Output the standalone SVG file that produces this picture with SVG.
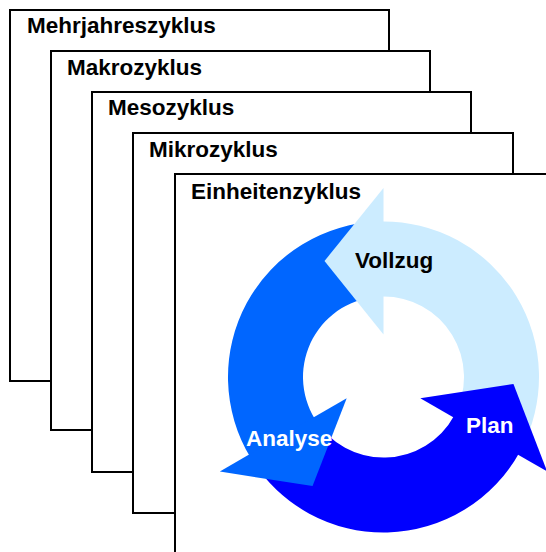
<svg xmlns="http://www.w3.org/2000/svg" width="546" height="552" viewBox="0 0 546 552">
  <style>
    .frame { fill: #ffffff; stroke: #000000; stroke-width: 2; }
    .lbl { font-family: "Liberation Sans", Arial, sans-serif; font-weight: bold; font-size: 22.5px; fill: #000000; }
    .clbl { font-family: "Liberation Sans", Arial, sans-serif; font-weight: bold; font-size: 22.5px; }
    .light { fill: #CCECFF; }
    .mid { fill: #0066FF; }
    .dark { fill: #0000FF; }
  </style>
  <rect width="546" height="552" fill="#ffffff"/>
  <g id="mehrjahreszyklus">
    <rect class="frame" x="10" y="10" width="379" height="371"/>
    <text class="lbl" x="27" y="33">Mehrjahreszyklus</text>
  </g>
  <g id="makrozyklus">
    <rect class="frame" x="51" y="51" width="379" height="379"/>
    <text class="lbl" x="67" y="75">Makrozyklus</text>
  </g>
  <g id="mesozyklus">
    <rect class="frame" x="92" y="92" width="379" height="380"/>
    <text class="lbl" x="108" y="115">Mesozyklus</text>
  </g>
  <g id="mikrozyklus">
    <rect class="frame" x="133" y="133" width="380" height="380"/>
    <text class="lbl" x="149" y="157">Mikrozyklus</text>
  </g>
  <g id="einheitenzyklus">
    <rect class="frame" x="175" y="174" width="400" height="400"/>
    <text class="lbl" x="191" y="199">Einheitenzyklus</text>
  </g>
  <g id="cycle">
    <g id="bodies">
      <path class="light" d="M 520.16 451.2 A 155.5 155.5 0 0 0 379.43 221.55 L 381.39 296.53 A 80.5 80.5 0 0 1 454.25 415.41 Z"/>
      <path class="mid" d="M 379.43 221.55 A 155.5 155.5 0 0 0 250.91 458.25 L 314.86 419.06 A 80.5 80.5 0 0 1 381.39 296.53 Z"/>
      <path class="dark" d="M 250.91 458.25 A 155.5 155.5 0 0 0 520.16 451.2 L 454.25 415.41 A 80.5 80.5 0 0 1 314.86 419.06 Z"/>
    </g>
    <g id="heads">
      <polygon class="light" points="383.5,334.5 383.5,188 324.5,261"/>
      <polygon class="mid" points="346.69,398.25 219.83,471.5 312.54,486.09"/>
      <polygon class="dark" points="420.31,398.25 547.17,471.5 513.46,383.91"/>
    </g>
  </g>
  <g id="vollzug">
    <text class="clbl" x="355" y="268" fill="#000000">Vollzug</text>
  </g>
  <g id="analyse">
    <text class="clbl" x="246" y="446" fill="#ffffff">Analyse</text>
  </g>
  <g id="plan">
    <text class="clbl" x="466" y="433" fill="#ffffff">Plan</text>
  </g>
</svg>
